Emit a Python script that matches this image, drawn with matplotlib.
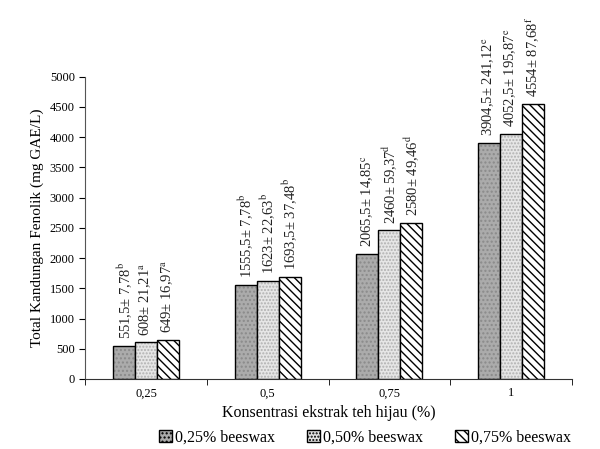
import numpy as np
import matplotlib.pyplot as plt
from matplotlib.ticker import FixedLocator
from matplotlib.patches import Patch

plt.rcParams['font.family'] = ['Liberation Serif', 'DejaVu Serif']
plt.rcParams['mathtext.fontset'] = 'stix'
plt.rcParams['hatch.linewidth'] = 1.0

categories = ['0,25', '0,5', '0,75', '1']
series_names = ['0,25% beeswax', '0,50% beeswax', '0,75% beeswax']
values = [
    [551.5, 1555.5, 2065.5, 3904.5],
    [608, 1623, 2460, 4052.5],
    [649, 1693.5, 2580, 4554],
]
sd = [
    ['7,78', '7,78', '14,85', '241,12'],
    ['21,21', '22,63', '59,37', '195,87'],
    ['16,97', '37,48', '49,46', '87,68'],
]
means_txt = [
    ['551,5', '1555,5', '2065,5', '3904,5'],
    ['608', '1623', '2460', '4052,5'],
    ['649', '1693,5', '2580', '4554'],
]
letters = [
    ['b', 'b', 'c', 'e'],
    ['a', 'b', 'd', 'e'],
    ['a', 'b', 'd', 'f'],
]

fig = plt.figure(figsize=(6.0, 4.49), dpi=100)
ax = fig.add_axes([0.142, 0.156, 0.811, 0.673])

x = np.arange(len(categories))
w = 0.18
faces = ['#ababab', '#e6e6e6', 'white']
hatch_cols = ['#8a8a8a', '#b0b0b0', 'black']
hatches = ['....', '.....', '\\\\\\\\']
for i in range(3):
    pos = x + (i - 1) * w
    ax.bar(pos, values[i], w, color=faces[i], edgecolor=hatch_cols[i], hatch=hatches[i],
           linewidth=0)
    ax.bar(pos, values[i], w, color='none', edgecolor='black', linewidth=1.0)
    for j in range(len(categories)):
        txt = means_txt[i][j] + '± ' + sd[i][j] + r'$^{\mathrm{' + letters[i][j] + '}}$'
        ax.text(pos[j], values[i][j] + 110, txt, rotation=90, ha='center', va='bottom',
                fontsize=10.5, color='#222222')

handles = [Patch(facecolor=faces[i], edgecolor='black', hatch=hatches[i], linewidth=1.0)
           for i in range(3)]

ax.set_xlim(-0.5, len(categories) - 0.5)
ax.set_ylim(0, 5000)
ax.set_yticks(np.arange(0, 5001, 500))
ax.set_xticks(x)
ax.set_xticklabels(categories, fontsize=9)
ax.tick_params(axis='x', which='major', length=0, pad=6)
ax.xaxis.set_minor_locator(FixedLocator(np.arange(-0.5, len(categories), 1.0)))
ax.tick_params(axis='x', which='minor', length=4, direction='out')
ax.tick_params(axis='y', labelsize=9, length=4)
for s in ['top', 'right']:
    ax.spines[s].set_visible(False)
ax.spines['left'].set_color('#555555')
ax.spines['bottom'].set_color('#333333')

ax.set_ylabel('Total Kandungan Fenolik (mg GAE/L)', fontsize=11)
ax.set_xlabel('Konsentrasi ekstrak teh hijau (%)', fontsize=11.5, labelpad=4)
ax.legend(handles, series_names, loc='upper center', bbox_to_anchor=(0.575, -0.135),
          ncol=3, frameon=False, fontsize=11.5, handlelength=0.8, handleheight=0.8,
          handletextpad=0.2, columnspacing=2.0, borderaxespad=0.2)

fig.savefig('out.png', dpi=100)
